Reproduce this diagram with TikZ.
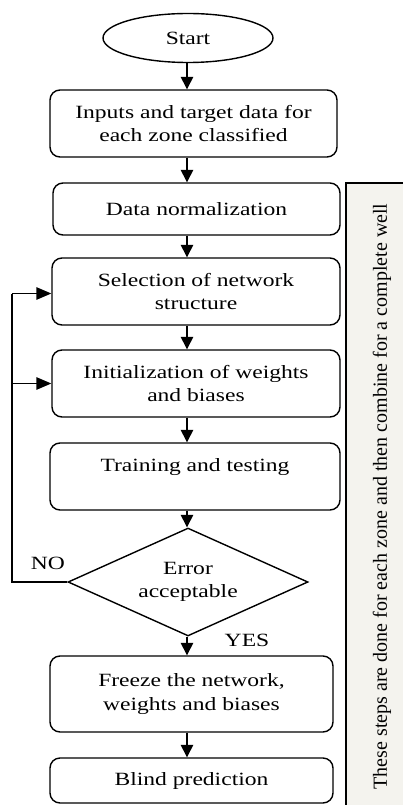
\documentclass[tikz,border=0pt]{standalone}
\usepackage{fontspec}
\setmainfont[FakeStretch=1.26]{Liberation Serif}
\newfontfamily\sidefont{Liberation Serif}
\usetikzlibrary{shapes.geometric,arrows.meta}
\definecolor{sidefill}{HTML}{F4F3EE}
\begin{document}
\begin{tikzpicture}[x=1pt,y=-1pt,
  txt/.style={font=\fontsize{18.7}{23.5}\selectfont, align=center, inner sep=0pt},
  stepbox/.style={txt, draw, line width=1.4pt, rounded corners=10pt},
  vflow/.style={line width=1.4pt, -{Triangle[width=12.5pt,length=12.5pt]}},
  hflow/.style={line width=1.4pt, -{Triangle[width=12.5pt,length=15pt]}},
  plain/.style={line width=1.4pt}]
\useasboundingbox (0,0) rectangle (403,805);
\clip (0,0) rectangle (403,805);
% side panel
\draw[line width=1.4pt, fill=sidefill] (346,183) rectangle (420,820);
\node[font=\sidefont\fontsize{20}{24}\selectfont, rotate=90, inner sep=0pt] (side) at (382,496.5)
  {These steps are done for each zone and then combine for a complete well};
% nodes
\node[txt, draw, line width=1.4pt, ellipse, minimum width=170pt, minimum height=49pt] (start) at (188,38) {Start};
\node[stepbox, minimum width=287pt, minimum height=67pt] (b1) at (193.5,123.5) {Inputs and target data for\\each zone classified};
\node[stepbox, minimum width=287pt, minimum height=52pt] (b2) at (196.5,209) {Data normalization};
\node[stepbox, minimum width=288pt, minimum height=67pt] (b3) at (196,291.5) {Selection of network\\structure};
\node[stepbox, minimum width=288pt, minimum height=67pt] (b4) at (196,383.5) {Initialization of weights\\and biases};
\node[stepbox, minimum width=290pt, minimum height=67pt] (b5) at (195,476.5) {Training and testing\\\mbox{}};
\node[txt, draw, line width=1.4pt, diamond, aspect=2.22, minimum width=240pt, minimum height=108pt] (d) at (188,582) {Error\\acceptable};
\node[stepbox, minimum width=283pt, minimum height=76pt] (b6) at (191.5,694) {Freeze the network,\\weights and biases};
\node[stepbox, minimum width=283pt, minimum height=45pt] (b7) at (191.5,780.5) {Blind prediction};
\node[txt] (no) at (48,563) {NO};
\node[txt] (yes) at (247,640) {YES};
\coordinate (ax) at (187,0);
\coordinate (lp) at (12,0);
% connectors
\draw[vflow] (start.south -| ax) -- (b1.north -| ax);
\draw[vflow] (b1.south -| ax) -- (b2.north -| ax);
\draw[vflow] (b2.south -| ax) -- (b3.north -| ax);
\draw[vflow] (b3.south -| ax) -- (b4.north -| ax);
\draw[vflow] (b4.south -| ax) -- (b5.north -| ax);
\draw[vflow] (b5.south -| ax) -- (d.north -| ax);
\draw[vflow] (d.south -| ax) -- (b6.north -| ax);
\draw[vflow] (b6.south -| ax) -- (b7.north -| ax);
\draw[plain] (d.west) -- (d.west -| lp) -- ([yshift=-2pt]b3.west -| lp);
\draw[hflow] ([yshift=-2pt]b3.west -| lp) -- ([yshift=-2pt]b3.west);
\draw[hflow] (b4.west -| lp) -- (b4.west);
\end{tikzpicture}
\end{document}
